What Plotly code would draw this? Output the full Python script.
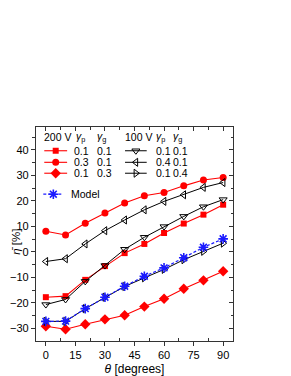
import plotly.graph_objects as go

theta = [0, 10, 20, 30, 40, 50, 60, 70, 80, 90]

# 200 V series
r_01_01 = [-17.8, -17.4, -11.0, -5.6, -0.5, 3.1, 7.4, 11.1, 14.6, 18.5]
r_03_01 = [8.1, 6.6, 11.2, 15.2, 19.2, 22.0, 23.3, 25.9, 28.2, 29.2]
r_01_03 = [-29.2, -30.4, -28.4, -26.5, -24.9, -21.5, -18.4, -14.5, -11.2, -7.6]
# 100 V series
k_01_01 = [-20.7, -18.7, -11.6, -5.4, 1.0, 5.7, 9.9, 13.9, 17.7, 20.5]
k_04_01 = [-3.8, -2.7, 3.1, 8.3, 12.5, 16.5, 19.8, 22.4, 25.3, 27.2]
k_01_04 = [-27.3, -27.3, -22.3, -17.8, -13.6, -10.2, -6.9, -3.1, 0.2, 3.4]
# model
model = [-27.3, -27.2, -22.3, -17.8, -13.5, -9.6, -6.3, -2.3, 1.8, 5.1]

x_ticks = [0, 15, 30, 45, 60, 75, 90]
x_minor = [7.5, 22.5, 37.5, 52.5, 67.5, 82.5]
y_ticks = [-30, -20, -10, 0, 10, 20, 30, 40]
y_minor = [-25, -15, -5, 5, 15, 25, 35, 45]

legend_200 = [("0.1", "0.1"), ("0.3", "0.1"), ("0.1", "0.3")]
legend_100 = [("0.1", "0.1"), ("0.4", "0.1"), ("0.1", "0.4")]

RED = "#ff0000"
BLK = "#000000"
BLUE = "#1a1aff"
FONT = "Liberation Sans, Arial, sans-serif"

red_styles = [
    dict(symbol="square", size=6),
    dict(symbol="circle", size=7),
    dict(symbol="diamond", size=8),
]
blk_styles = [
    dict(symbol="triangle-down-open", size=7),
    dict(symbol="triangle-left-open", size=7),
    dict(symbol="triangle-right-open", size=7),
]

fig = go.Figure()

for ys, st in zip([r_01_01, r_03_01, r_01_03], red_styles):
    fig.add_trace(go.Scatter(
        x=theta, y=ys, mode="lines+markers",
        line=dict(color=RED, width=1.1),
        marker=dict(color=RED, line=dict(width=0), **st),
        showlegend=False))

for ys, st in zip([k_01_01, k_04_01, k_01_04], blk_styles):
    fig.add_trace(go.Scatter(
        x=theta, y=ys, mode="lines+markers",
        line=dict(color=BLK, width=1),
        marker=dict(color=BLK, line=dict(width=1, color=BLK), **st),
        showlegend=False))

fig.add_trace(go.Scatter(
    x=theta, y=model, mode="lines+markers",
    line=dict(color=BLUE, width=1.2, dash="3px,2px"),
    marker=dict(symbol="asterisk-open", size=8, color=BLUE,
                line=dict(width=1.6, color=BLUE)),
    showlegend=False))

# ---- custom legend drawn on a hidden 0..1 overlay axis ----
row_y = [0.889, 0.835, 0.784]
col1_line = (0.042, 0.158)
col2_line = (0.452, 0.562)
for i, st in enumerate(red_styles):
    fig.add_trace(go.Scatter(
        x=list(col1_line), y=[row_y[i]] * 2, mode="lines",
        line=dict(color=RED, width=1.1), xaxis="x3", yaxis="y3",
        showlegend=False, hoverinfo="skip"))
    fig.add_trace(go.Scatter(
        x=[sum(col1_line) / 2], y=[row_y[i]], mode="markers",
        marker=dict(color=RED, line=dict(width=0), **st),
        xaxis="x3", yaxis="y3", showlegend=False, hoverinfo="skip"))
for i, st in enumerate(blk_styles):
    fig.add_trace(go.Scatter(
        x=list(col2_line), y=[row_y[i]] * 2, mode="lines",
        line=dict(color=BLK, width=1), xaxis="x3", yaxis="y3",
        showlegend=False, hoverinfo="skip"))
    fig.add_trace(go.Scatter(
        x=[sum(col2_line) / 2], y=[row_y[i]], mode="markers",
        marker=dict(color=BLK, line=dict(width=1, color=BLK), **st),
        xaxis="x3", yaxis="y3", showlegend=False, hoverinfo="skip"))
model_y = 0.686
fig.add_trace(go.Scatter(
    x=[0.037, 0.138], y=[model_y] * 2, mode="lines",
    line=dict(color=BLUE, width=1.2, dash="3px,2px"),
    xaxis="x3", yaxis="y3", showlegend=False, hoverinfo="skip"))
fig.add_trace(go.Scatter(
    x=[0.088], y=[model_y], mode="markers",
    marker=dict(symbol="asterisk-open", size=8, color=BLUE,
                line=dict(width=1.6, color=BLUE)),
    xaxis="x3", yaxis="y3", showlegend=False, hoverinfo="skip"))

ann = []
def txt(x, y, s, anchor="left"):
    ann.append(dict(x=x, y=y, xref="paper", yref="paper", text=s,
                    showarrow=False, xanchor=anchor, yanchor="middle",
                    font=dict(family=FONT, size=10.5, color="black")))

hdr_y = 0.953
txt(0.028, hdr_y, "200 V")
txt(0.192, hdr_y, "<i>γ</i><sub>p</sub>")
txt(0.298, hdr_y, "<i>γ</i><sub>g</sub>")
txt(0.443, hdr_y, "100 V")
txt(0.598, hdr_y, "<i>γ</i><sub>p</sub>")
txt(0.686, hdr_y, "<i>γ</i><sub>g</sub>")
for i, (a, b) in enumerate(legend_200):
    txt(0.184, row_y[i], a)
    txt(0.298, row_y[i], b)
for i, (a, b) in enumerate(legend_100):
    txt(0.598, row_y[i], a)
    txt(0.686, row_y[i], b)
txt(0.170, model_y, "Model")

# y-axis title as rotated annotation
ann.append(dict(x=-0.100, y=0.465, xref="paper", yref="paper",
                text="<i>η\u0304</i> [%]", showarrow=False, textangle=-90,
                xanchor="center", yanchor="middle",
                font=dict(family=FONT, size=11.5, color="black")))

axis_common = dict(showgrid=False, zeroline=False, linecolor="#333333",
                   linewidth=1.3, automargin=False,
                   tickfont=dict(family=FONT, size=11, color="black"))

fig.update_layout(
    width=283, height=368,
    margin=dict(l=28, r=58, t=119, b=35),
    paper_bgcolor="white", plot_bgcolor="white",
    annotations=ann,
    xaxis=dict(range=[-5, 95], tickvals=x_ticks, ticks="outside",
               ticklen=4, tickwidth=1, tickcolor="#333333", mirror=True,
               minor=dict(tickvals=x_minor, ticks="inside", ticklen=2.5,
                          tickcolor="#333333"),
               title=dict(text="<i>θ</i> [degrees]", standoff=6,
                          font=dict(family=FONT, size=12, color="black")),
               **axis_common),
    yaxis=dict(range=[-35, 49], tickvals=y_ticks, ticks="outside",
               ticklen=4, tickwidth=1, tickcolor="#333333", mirror=True,
               minor=dict(tickvals=y_minor, ticks="outside", ticklen=2.5,
                          tickcolor="#333333"),
               **axis_common),
    xaxis2=dict(overlaying="x", side="top", range=[-5, 95],
                tickvals=x_ticks, automargin=False,
                ticks="inside", ticklen=4, tickcolor="#333333",
                showticklabels=False, showgrid=False, zeroline=False,
                showline=False,
                minor=dict(tickvals=x_minor, ticks="inside", ticklen=2.5,
                           tickcolor="#333333")),
    yaxis2=dict(overlaying="y", side="right", range=[-35, 49],
                tickvals=y_ticks, ticks="inside", ticklen=4, automargin=False,
                tickcolor="#333333", showticklabels=False, showgrid=False,
                zeroline=False, showline=False,
                minor=dict(tickvals=y_minor, ticks="inside", ticklen=2.5,
                           tickcolor="#333333")),
    xaxis3=dict(overlaying="x", range=[0, 1], visible=False, automargin=False),
    yaxis3=dict(overlaying="y", range=[0, 1], visible=False, automargin=False),
)

# dummy trace to activate top/right tick axes
fig.add_trace(go.Scatter(x=[None], y=[None], xaxis="x2", yaxis="y2",
                         showlegend=False))

fig.write_html("out.html")
